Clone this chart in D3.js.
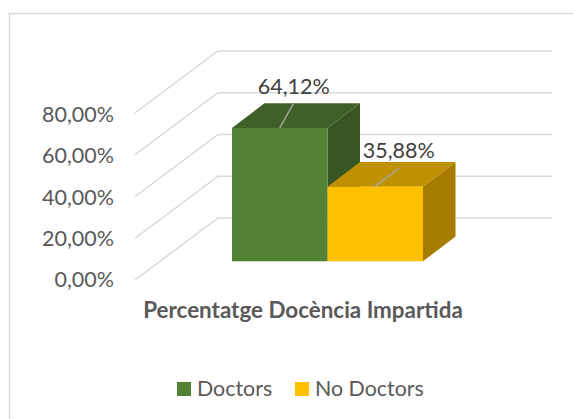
<!DOCTYPE html>
<html>
<head>
<meta charset="utf-8">
<script src="https://cdnjs.cloudflare.com/ajax/libs/d3/7.8.5/d3.min.js"></script>
<style>
  html, body { margin: 0; padding: 0; background: #fff; }
  svg { display: block; }
  text { font-family: Lato, "Open Sans", sans-serif; }
</style>
</head>
<body>
<svg id="chart" width="573" height="419"></svg>
<script>
var categories = ["Percentatge Docència Impartida"];
var seriesNames = ["Doctors", "No Doctors"];
var seriesValues = [64.12, 35.88];
var valueLabels = ["64,12%", "35,88%"];
var tickValues = [0, 20, 40, 60, 80];
var tickLabels = ["0,00%", "20,00%", "40,00%", "60,00%", "80,00%"];

var faceColors = ["#548235", "#ffc000"];
var topColors = ["#3f6128", "#bf9000"];
var sideColors = ["#375623", "#a67c00"];

var svg = d3.select("#chart");

// outer frame, only top and left show in the picture
svg.append("path")
    .attr("fill", "none")
    .attr("stroke", "#d9d9d9")
    .attr("stroke-width", 1.5)
    .attr("d", d3.line()([[9.5, 419], [9.5, 13.5], [573, 13.5]]));

// y scale for the front edge of the floor, wall is shifted back by wallDy
var y = d3.scaleLinear().domain([0, 80]).range([280, 113]);
var yLabel = d3.scaleLinear().domain([0, 80]).range([287, 122]);
var frontX = 135, wallX = 218, wallEnd = 552, wallDy = 62;

var grid = svg.append("g");
tickValues.forEach(function(t) {
    grid.append("path")
        .attr("fill", "none")
        .attr("stroke", "#d9d9d9")
        .attr("stroke-width", 1.5)
        .attr("d", d3.line()([
            [frontX, y(t)],
            [wallX, y(t) - wallDy],
            [wallEnd, y(t) - wallDy]
        ]));
});

// tick labels
svg.append("g").selectAll("text")
    .data(tickValues)
    .join("text")
    .attr("x", 114)
    .attr("y", function(d) { return yLabel(d); })
    .attr("text-anchor", "end")
    .attr("font-size", 21.5)
    .attr("fill", "#595959")
    .text(function(d, i) { return tickLabels[i]; });

// 3d bars
var x = d3.scaleBand().domain(seriesNames).range([232, 423]).padding(0);
var baseY = 261.3, barDx = 32.5, barDy = 24.7;
var barH = d3.scaleLinear().domain([0, 80]).range([0, 166.4]);

var bars = svg.append("g");
seriesNames.forEach(function(name, i) {
    var x0 = x(name), x1 = x0 + x.bandwidth();
    var top = baseY - barH(seriesValues[i]);
    var line = d3.line();

    bars.append("path").attr("fill", sideColors[i])
        .attr("d", line([[x1, top], [x1 + barDx, top - barDy], [x1 + barDx, baseY - barDy], [x1, baseY]]) + "Z");
    bars.append("path").attr("fill", topColors[i])
        .attr("d", line([[x0, top], [x0 + barDx, top - barDy], [x1 + barDx, top - barDy], [x1, top]]) + "Z");
    bars.append("rect").attr("fill", faceColors[i])
        .attr("x", x0).attr("y", top)
        .attr("width", x.bandwidth()).attr("height", baseY - top);
});

// data labels with leader lines (offsets from the middle of each bar's top edge)
var leaderStart = [0, -0.5];
var leaderEnd = [[13.5, -24], [24, -18.7]];
var labelOffset = [[14, -34], [23.5, -28.7]];
seriesNames.forEach(function(name, i) {
    var cx = x(name) + x.bandwidth() / 2;
    var top = baseY - barH(seriesValues[i]);
    svg.append("line")
        .attr("x1", cx + leaderStart[i]).attr("y1", top)
        .attr("x2", cx + leaderEnd[i][0]).attr("y2", top + leaderEnd[i][1])
        .attr("stroke", "#a6a6a6").attr("stroke-width", 1.4);
    svg.append("text")
        .attr("x", cx + labelOffset[i][0])
        .attr("y", top + labelOffset[i][1])
        .attr("text-anchor", "middle")
        .attr("font-size", 21.5)
        .attr("fill", "#404040")
        .text(valueLabels[i]);
});

// category label
svg.append("text")
    .attr("x", 303).attr("y", 318)
    .attr("text-anchor", "middle")
    .attr("font-size", 22.4)
    .attr("font-weight", 700)
    .attr("fill", "#595959")
    .text(categories[0]);

// legend
var legendX = [177, 295], legendTextX = [197, 315];
seriesNames.forEach(function(name, i) {
    svg.append("rect")
        .attr("x", legendX[i]).attr("y", 382)
        .attr("width", 14).attr("height", 14)
        .attr("fill", faceColors[i]);
    svg.append("text")
        .attr("x", legendTextX[i]).attr("y", 396)
        .attr("font-size", 21.4)
        .attr("fill", "#595959")
        .text(name);
});
</script>
</body>
</html>
